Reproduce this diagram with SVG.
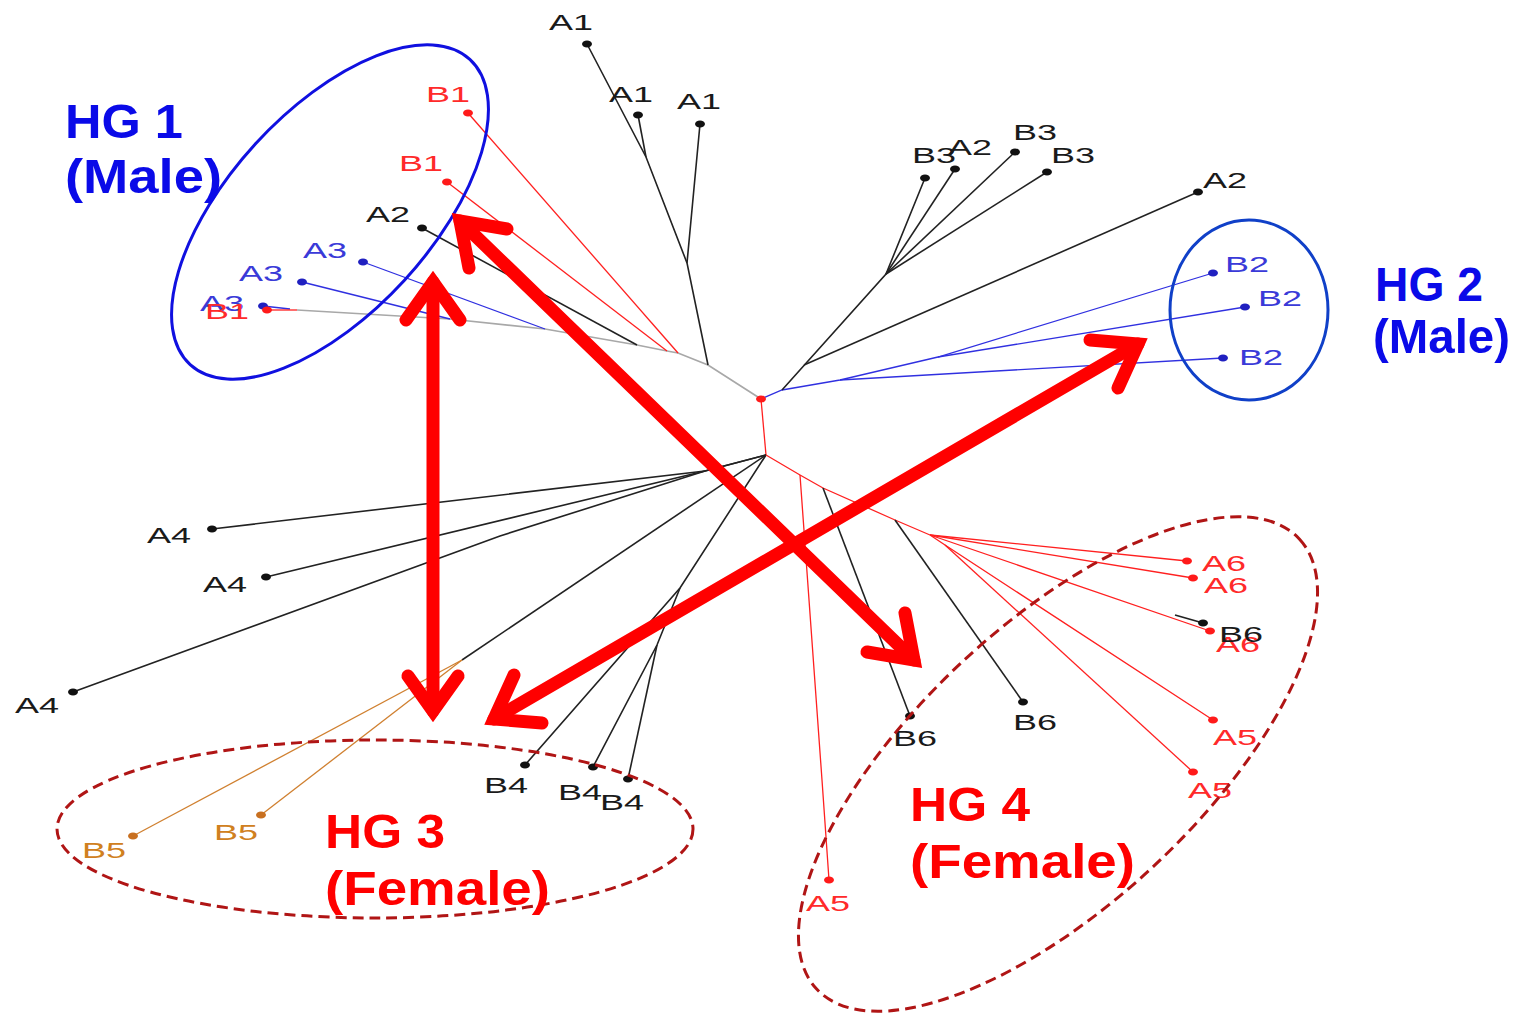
<svg xmlns="http://www.w3.org/2000/svg" width="1519" height="1014" viewBox="0 0 1519 1014">
<style>
.lb{font-family:"Liberation Sans",Arial,sans-serif;font-size:22px}
.lk{fill:#1a1a1a}.lr{fill:#ff2a2a}.lbl{fill:#3a3ad8}.lo{fill:#d08020}
.k{stroke:#222;stroke-width:1.6;fill:none}
.r{stroke:#ff2020;stroke-width:1.3;fill:none}
.b{stroke:#3030e0;stroke-width:1.3;fill:none}
.g{stroke:#a8a8a8;stroke-width:1.7;fill:none}
.o{stroke:#d08030;stroke-width:1.3;fill:none}
.dk{fill:#111}.dr{fill:#ff1a1a}.db{fill:#2020c0}.do{fill:#c87020}
.hg{font-family:"Liberation Sans",Arial,sans-serif;font-size:49px;font-weight:bold}
.hb{fill:#0a0ae8}.hr{fill:#ff0000}
.solid{fill:none;stroke-width:3}
.dash{fill:none;stroke:#b01515;stroke-width:3;stroke-dasharray:11 6}
.arr{fill:none;stroke:#ff0000;stroke-width:13;stroke-linecap:round;stroke-linejoin:miter;stroke-miterlimit:10}
</style>

<g id="connectors">
  <!-- upper cluster -->
  <path class="g" d="M761,399 L708,365 L678,353 L667,351 L637,345 L545,329 L450,319 L297,310"/>
  <path class="r" d="M761,399 L766,455"/>
  <path class="b" d="M263,306 L290,309"/>
  <path class="r" d="M267,310 L297,310"/>
  <path class="b" d="M363,262 L545,329"/>
  <path class="b" d="M302,282 L450,319"/>
  <path class="k" d="M422,228 L637,345"/>
  <path class="r" d="M468,113 L678,353"/>
  <path class="r" d="M447,182 L667,351"/>
  <!-- A1 -->
  <path class="k" d="M708,365 L687,263 L700,124"/>
  <path class="k" d="M687,263 L646,157 L587,44"/>
  <path class="k" d="M646,157 L638,115"/>
  <!-- right -->
  <path class="b" d="M761,399 L782,390 L840,380 L938,357 L1213,273"/>
  <path class="b" d="M938,357 L1245,307"/>
  <path class="b" d="M840,380 L1223,358"/>
  <path class="k" d="M782,390 L886,274 L925,178"/>
  <path class="k" d="M886,274 L955,169"/>
  <path class="k" d="M886,274 L1015,152"/>
  <path class="k" d="M886,274 L1047,172"/>
  <path class="k" d="M804,365 L1198,192"/>
  <!-- lower left -->
  <path class="k" d="M766,455 L705,471 L212,529"/>
  <path class="k" d="M705,471 L266,577"/>
  <path class="k" d="M766,455 L705,471 L500,536 L73,692"/>
  <path class="k" d="M766,455 L462,660"/>
  <path class="o" d="M462,660 L133,836"/>
  <path class="o" d="M462,660 L261,815"/>
  <path class="k" d="M766,455 L680,588 L525,765"/>
  <path class="k" d="M680,588 L657,645 L593,767"/>
  <path class="k" d="M657,645 L628,779"/>
  <!-- lower right -->
  <path class="r" d="M766,455 L800,475 L823,488 L895,520 L930,535"/>
  <path class="r" d="M800,475 L822,780 L829,880"/>
  <path class="k" d="M823,488 L910,716"/>
  <path class="k" d="M895,520 L1023,702"/>
  <path class="r" d="M930,535 L1187,561"/>
  <path class="r" d="M930,535 L1193,578"/>
  <path class="r" d="M930,535 L1210,631"/>
  <path class="k" d="M1175,615 L1203,623"/>
  <path class="r" d="M930,535 L945,545 L1213,720"/>
  <path class="r" d="M945,545 L1193,772"/>
</g>

<g id="center-nodes">
  <ellipse cx="761" cy="399" rx="5" ry="3.5" class="dr"/>
</g>

<g id="leaf-A1a"><ellipse cx="587" cy="44" rx="5" ry="3.5" class="dk"/><text class="lb lk" x="549" y="30" textLength="44" lengthAdjust="spacingAndGlyphs">A1</text></g>
<g id="leaf-A1b"><ellipse cx="638" cy="115" rx="5" ry="3.5" class="dk"/><text class="lb lk" x="609" y="102" textLength="44" lengthAdjust="spacingAndGlyphs">A1</text></g>
<g id="leaf-A1c"><ellipse cx="700" cy="124" rx="5" ry="3.5" class="dk"/><text class="lb lk" x="677" y="109" textLength="44" lengthAdjust="spacingAndGlyphs">A1</text></g>

<g id="leaf-B3a"><ellipse cx="925" cy="178" rx="5" ry="3.5" class="dk"/><text class="lb lk" x="912" y="163" textLength="44" lengthAdjust="spacingAndGlyphs">B3</text></g>
<g id="leaf-A2b"><ellipse cx="955" cy="169" rx="5" ry="3.5" class="dk"/><text class="lb lk" x="948" y="155" textLength="44" lengthAdjust="spacingAndGlyphs">A2</text></g>
<g id="leaf-B3b"><ellipse cx="1015" cy="152" rx="5" ry="3.5" class="dk"/><text class="lb lk" x="1013" y="140" textLength="44" lengthAdjust="spacingAndGlyphs">B3</text></g>
<g id="leaf-B3c"><ellipse cx="1047" cy="172" rx="5" ry="3.5" class="dk"/><text class="lb lk" x="1051" y="163" textLength="44" lengthAdjust="spacingAndGlyphs">B3</text></g>
<g id="leaf-A2c"><ellipse cx="1198" cy="192" rx="5" ry="3.5" class="dk"/><text class="lb lk" x="1203" y="188" textLength="44" lengthAdjust="spacingAndGlyphs">A2</text></g>

<g id="leaf-B2a"><ellipse cx="1213" cy="273" rx="5" ry="3.5" class="db"/><text class="lb lbl" x="1225" y="272" textLength="44" lengthAdjust="spacingAndGlyphs">B2</text></g>
<g id="leaf-B2b"><ellipse cx="1245" cy="307" rx="5" ry="3.5" class="db"/><text class="lb lbl" x="1258" y="306" textLength="44" lengthAdjust="spacingAndGlyphs">B2</text></g>
<g id="leaf-B2c"><ellipse cx="1223" cy="358" rx="5" ry="3.5" class="db"/><text class="lb lbl" x="1239" y="365" textLength="44" lengthAdjust="spacingAndGlyphs">B2</text></g>

<g id="leaf-B1a"><ellipse cx="468" cy="113" rx="5" ry="3.5" class="dr"/><text class="lb lr" x="426" y="102" textLength="44" lengthAdjust="spacingAndGlyphs">B1</text></g>
<g id="leaf-B1b"><ellipse cx="447" cy="182" rx="5" ry="3.5" class="dr"/><text class="lb lr" x="399" y="171" textLength="44" lengthAdjust="spacingAndGlyphs">B1</text></g>
<g id="leaf-A2a"><ellipse cx="422" cy="228" rx="5" ry="3.5" class="dk"/><text class="lb lk" x="366" y="222" textLength="44" lengthAdjust="spacingAndGlyphs">A2</text></g>
<g id="leaf-A3a"><ellipse cx="363" cy="262" rx="5" ry="3.5" class="db"/><text class="lb lbl" x="303" y="258" textLength="44" lengthAdjust="spacingAndGlyphs">A3</text></g>
<g id="leaf-A3b"><ellipse cx="302" cy="282" rx="5" ry="3.5" class="db"/><text class="lb lbl" x="239" y="281" textLength="44" lengthAdjust="spacingAndGlyphs">A3</text></g>
<g id="leaf-A3c"><ellipse cx="263" cy="306" rx="5" ry="3.5" class="db"/><text class="lb lbl" x="200" y="311" textLength="44" lengthAdjust="spacingAndGlyphs">A3</text></g>
<g id="leaf-B1c"><ellipse cx="267" cy="310" rx="5" ry="3.5" class="dr"/><text class="lb lr" x="205" y="319" textLength="44" lengthAdjust="spacingAndGlyphs">B1</text></g>

<g id="leaf-A4a"><ellipse cx="212" cy="529" rx="5" ry="3.5" class="dk"/><text class="lb lk" x="147" y="543" textLength="44" lengthAdjust="spacingAndGlyphs">A4</text></g>
<g id="leaf-A4b"><ellipse cx="266" cy="577" rx="5" ry="3.5" class="dk"/><text class="lb lk" x="203" y="592" textLength="44" lengthAdjust="spacingAndGlyphs">A4</text></g>
<g id="leaf-A4c"><ellipse cx="73" cy="692" rx="5" ry="3.5" class="dk"/><text class="lb lk" x="15" y="713" textLength="44" lengthAdjust="spacingAndGlyphs">A4</text></g>

<g id="leaf-B5a"><ellipse cx="133" cy="836" rx="5" ry="3.5" class="do"/><text class="lb lo" x="82" y="858" textLength="44" lengthAdjust="spacingAndGlyphs">B5</text></g>
<g id="leaf-B5b"><ellipse cx="261" cy="815" rx="5" ry="3.5" class="do"/><text class="lb lo" x="214" y="840" textLength="44" lengthAdjust="spacingAndGlyphs">B5</text></g>

<g id="leaf-B4a"><ellipse cx="525" cy="765" rx="5" ry="3.5" class="dk"/><text class="lb lk" x="484" y="793" textLength="44" lengthAdjust="spacingAndGlyphs">B4</text></g>
<g id="leaf-B4b"><ellipse cx="593" cy="767" rx="5" ry="3.5" class="dk"/><text class="lb lk" x="558" y="800" textLength="44" lengthAdjust="spacingAndGlyphs">B4</text></g>
<g id="leaf-B4c"><ellipse cx="628" cy="779" rx="5" ry="3.5" class="dk"/><text class="lb lk" x="600" y="810" textLength="44" lengthAdjust="spacingAndGlyphs">B4</text></g>

<g id="leaf-B6a"><ellipse cx="910" cy="716" rx="5" ry="3.5" class="dk"/><text class="lb lk" x="893" y="746" textLength="44" lengthAdjust="spacingAndGlyphs">B6</text></g>
<g id="leaf-B6b"><ellipse cx="1023" cy="702" rx="5" ry="3.5" class="dk"/><text class="lb lk" x="1013" y="730" textLength="44" lengthAdjust="spacingAndGlyphs">B6</text></g>
<g id="leaf-A6c"><ellipse cx="1210" cy="631" rx="5" ry="3.5" class="dr"/><text class="lb lr" x="1216" y="652" textLength="44" lengthAdjust="spacingAndGlyphs">A6</text></g>
<g id="leaf-B6c"><ellipse cx="1203" cy="623" rx="5" ry="3.5" class="dk"/><text class="lb lk" x="1219" y="642" textLength="44" lengthAdjust="spacingAndGlyphs">B6</text></g>
<g id="leaf-A6a"><ellipse cx="1187" cy="561" rx="5" ry="3.5" class="dr"/><text class="lb lr" x="1202" y="571" textLength="44" lengthAdjust="spacingAndGlyphs">A6</text></g>
<g id="leaf-A6b"><ellipse cx="1193" cy="578" rx="5" ry="3.5" class="dr"/><text class="lb lr" x="1204" y="593" textLength="44" lengthAdjust="spacingAndGlyphs">A6</text></g>
<g id="leaf-A5a"><ellipse cx="1213" cy="720" rx="5" ry="3.5" class="dr"/><text class="lb lr" x="1213" y="745" textLength="44" lengthAdjust="spacingAndGlyphs">A5</text></g>
<g id="leaf-A5b"><ellipse cx="1193" cy="772" rx="5" ry="3.5" class="dr"/><text class="lb lr" x="1188" y="798" textLength="44" lengthAdjust="spacingAndGlyphs">A5</text></g>
<g id="leaf-A5c"><ellipse cx="829" cy="880" rx="5" ry="3.5" class="dr"/><text class="lb lr" x="806" y="911" textLength="44" lengthAdjust="spacingAndGlyphs">A5</text></g>

<g id="HG1">
  <ellipse cx="330" cy="212" rx="207" ry="101" transform="rotate(-47.5 330 212)" class="solid" stroke="#1010e0"/>
  <text class="hg hb" x="65" y="138" textLength="118" lengthAdjust="spacingAndGlyphs">HG 1</text>
  <text class="hg hb" x="65" y="193" textLength="157" lengthAdjust="spacingAndGlyphs">(Male)</text>
</g>
<g id="HG2">
  <ellipse cx="1249" cy="310" rx="79" ry="90" class="solid" stroke="#1040c8"/>
  <text class="hg hb" x="1375" y="301" textLength="108" lengthAdjust="spacingAndGlyphs">HG 2</text>
  <text class="hg hb" x="1373" y="353" textLength="137" lengthAdjust="spacingAndGlyphs">(Male)</text>
</g>
<g id="HG3">
  <ellipse cx="375" cy="829" rx="318" ry="89" class="dash"/>
  <text class="hg hr" x="325" y="848" textLength="120" lengthAdjust="spacingAndGlyphs">HG 3</text>
  <text class="hg hr" x="325" y="905" textLength="225" lengthAdjust="spacingAndGlyphs">(Female)</text>
</g>
<g id="HG4">
  <ellipse cx="1058" cy="764" rx="330" ry="140" transform="rotate(-43 1058 764)" class="dash"/>
  <text class="hg hr" x="910" y="821" textLength="120" lengthAdjust="spacingAndGlyphs">HG 4</text>
  <text class="hg hr" x="910" y="878" textLength="225" lengthAdjust="spacingAndGlyphs">(Female)</text>
</g>

<g id="arrows">
  <path class="arr" d="M433,282 L433,711"/>
  <path class="arr" d="M406,320 L433,282 L460,320"/>
  <path class="arr" d="M408,676 L433,711 L458,676"/>
  <path class="arr" d="M460,221 L914,660"/>
  <path class="arr" d="M469,268 L460,221 L507,229"/>
  <path class="arr" d="M905,613 L914,660 L867,652"/>
  <path class="arr" d="M494,719 L1138,344"/>
  <path class="arr" d="M1090,340 L1138,344 L1118,388"/>
  <path class="arr" d="M542,723 L494,719 L514,675"/>
</g>
</svg>
